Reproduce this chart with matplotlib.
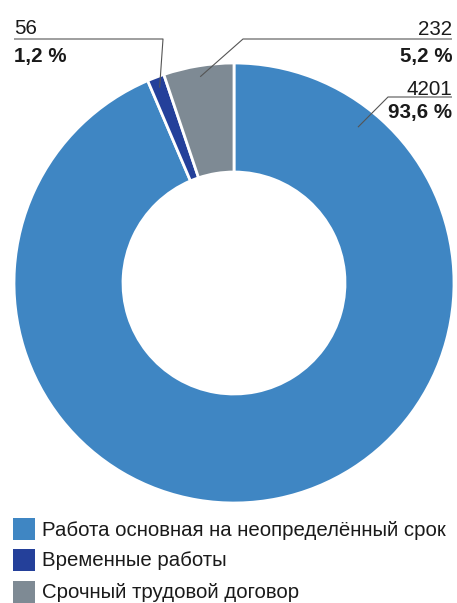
import numpy as np
import matplotlib
matplotlib.use("Agg")
import matplotlib.pyplot as plt
from matplotlib.patches import Rectangle

plt.rcParams['font.family'] = ['Liberation Sans', 'DejaVu Sans']

categories = ["Работа основная на неопределённый срок",
              "Временные работы",
              "Срочный трудовой договор"]
counts = [4201, 56, 232]
percent_labels = ["93,6 %", "1,2 %", "5,2 %"]
colors = ["#3F86C3", "#24409A", "#7E8A94"]

W, H = 457, 603
fig = plt.figure(figsize=(W / 100, H / 100), dpi=100)
ax = fig.add_axes([0, 0, 1, 1])

cx, cy = 234, H - 283
R, ring = 220, 109
wedges, _ = ax.pie(counts, colors=colors, startangle=90, counterclock=False,
                   radius=R, center=(cx, cy),
                   wedgeprops=dict(width=ring, edgecolor="white", linewidth=2))
ax.set_xlim(0, W)
ax.set_ylim(0, H)
ax.set_aspect("equal")
ax.axis("off")

line_kw = dict(color="#555555", lw=0.8, solid_capstyle="butt")
txt_color = "#1a1a1a"
fs = 14.8
fs_leg = 14.7


def wedge_point(w, frac=0.95, angle=None):
    a = np.deg2rad(0.5 * (w.theta1 + w.theta2) if angle is None else angle)
    return cx + frac * R * np.cos(a), cy + frac * R * np.sin(a)


def Y(y_img):
    return H - y_img


# 56 / 1,2 % (upper left)
px, py = wedge_point(wedges[1])
ax.plot([14, 163, px], [Y(39), Y(39), py], **line_kw)
ax.text(14, Y(34), f"{counts[1]}", fontsize=fs, color=txt_color, ha="left", va="baseline")
ax.text(14, Y(62), percent_labels[1], fontsize=fs, fontweight="bold", color=txt_color,
        ha="left", va="baseline")

# 232 / 5,2 % (upper right)
px, py = wedge_point(wedges[2])
ax.plot([452, 243, px], [Y(39), Y(39), py], **line_kw)
ax.text(452, Y(35), f"{counts[2]}", fontsize=fs, color=txt_color, ha="right", va="baseline")
ax.text(452, Y(62), percent_labels[2], fontsize=fs, fontweight="bold", color=txt_color,
        ha="right", va="baseline")

# 4201 / 93,6 %
px, py = wedge_point(wedges[0], frac=0.905, angle=51.5)
ax.plot([452, 388, px], [Y(97), Y(97), py], **line_kw)
ax.text(452, Y(95), f"{counts[0]}", fontsize=fs, color=txt_color, ha="right", va="baseline")
ax.text(452, Y(118), percent_labels[0], fontsize=fs, fontweight="bold", color=txt_color,
        ha="right", va="baseline")

# Legend
row_tops = [518, 549, 581]
for top, label, col in zip(row_tops, categories, colors):
    ax.add_patch(Rectangle((13, Y(top + 22)), 22, 22, facecolor=col, edgecolor="none"))
    ax.text(42, Y(top + 12), label, fontsize=fs_leg, color=txt_color, ha="left", va="center")

fig.savefig("out.png", dpi=100, facecolor="white")
